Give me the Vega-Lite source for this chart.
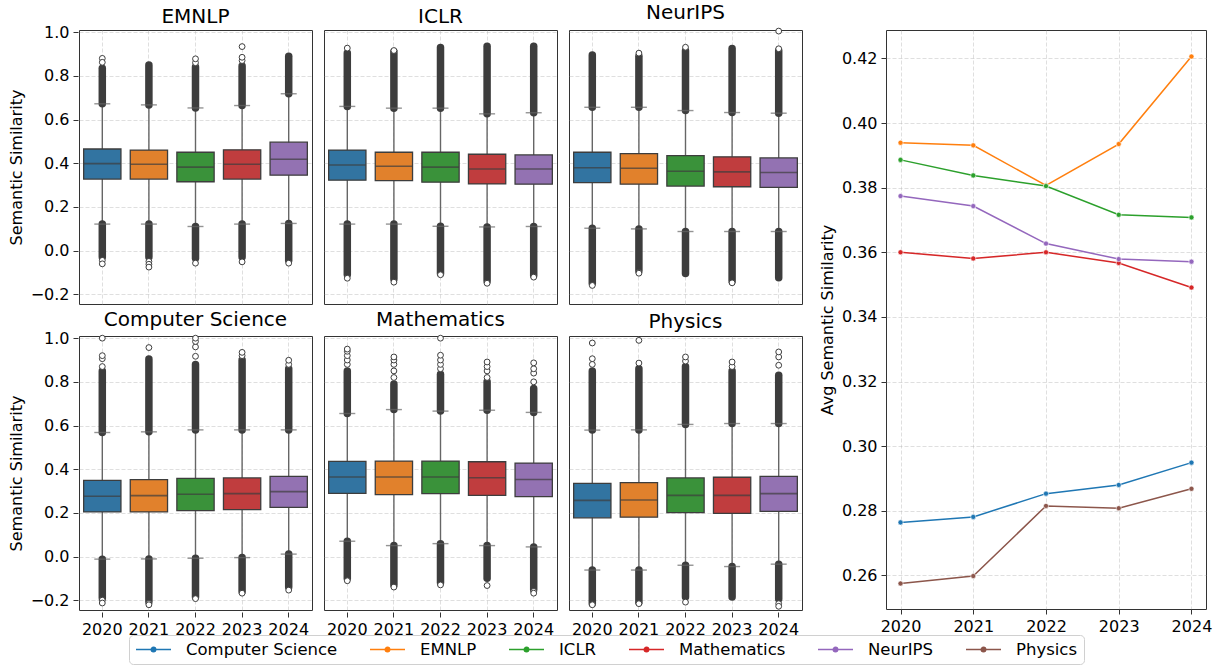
{
  "$schema": "https://vega.github.io/schema/vega-lite/v6.json",
  "background": "white",
  "padding": {"left": 8, "top": 2, "right": 5, "bottom": 0},
  "config": {
    "font": "DejaVu Sans",
    "view": {"stroke": "#333333", "strokeWidth": 1},
    "axis": {
      "labelFont": "DejaVu Sans", "labelFontSize": 16, "labelColor": "#000000",
      "titleFont": "DejaVu Sans", "titleFontSize": 16, "titleFontWeight": "normal", "titleColor": "#000000",
      "tickColor": "#333333", "tickSize": 5, "tickWidth": 1, "labelPadding": 4, "domain": false,
      "grid": true, "gridColor": "#b0b0b0", "gridOpacity": 0.5, "gridDash": [4, 2], "gridWidth": 0.8
    },
    "header": {"labelFont": "DejaVu Sans", "labelFontSize": 20, "labelColor": "#000000", "labelPadding": 3}
  },
  "hconcat": [
    {
      "data": {"values": [
        {"venue": "EMNLP", "year": "2020", "q1": 0.327, "median": 0.398, "q3": 0.465, "lo": 0.121, "hi": 0.672, "denseLo": -0.03, "denseHi": 0.835, "out": [0.88, 0.862, -0.045, -0.061]},
        {"venue": "EMNLP", "year": "2021", "q1": 0.327, "median": 0.395, "q3": 0.46, "lo": 0.121, "hi": 0.667, "denseLo": -0.03, "denseHi": 0.85, "out": [-0.05, -0.063, -0.076]},
        {"venue": "EMNLP", "year": "2022", "q1": 0.315, "median": 0.382, "q3": 0.45, "lo": 0.11, "hi": 0.653, "denseLo": -0.035, "denseHi": 0.84, "out": [0.86, 0.878, -0.058]},
        {"venue": "EMNLP", "year": "2023", "q1": 0.327, "median": 0.395, "q3": 0.461, "lo": 0.121, "hi": 0.664, "denseLo": -0.03, "denseHi": 0.845, "out": [0.87, 0.885, 0.934, -0.052]},
        {"venue": "EMNLP", "year": "2024", "q1": 0.345, "median": 0.418, "q3": 0.496, "lo": 0.124, "hi": 0.718, "denseLo": -0.045, "denseHi": 0.89, "out": [-0.058]},
        {"venue": "ICLR", "year": "2020", "q1": 0.322, "median": 0.392, "q3": 0.46, "lo": 0.121, "hi": 0.66, "denseLo": -0.11, "denseHi": 0.905, "out": [0.927, -0.127]},
        {"venue": "ICLR", "year": "2021", "q1": 0.32, "median": 0.386, "q3": 0.45, "lo": 0.121, "hi": 0.652, "denseLo": -0.13, "denseHi": 0.91, "out": [0.916, -0.145]},
        {"venue": "ICLR", "year": "2022", "q1": 0.313, "median": 0.382, "q3": 0.45, "lo": 0.111, "hi": 0.652, "denseLo": -0.105, "denseHi": 0.93, "out": [-0.111]},
        {"venue": "ICLR", "year": "2023", "q1": 0.305, "median": 0.373, "q3": 0.441, "lo": 0.108, "hi": 0.626, "denseLo": -0.14, "denseHi": 0.935, "out": [-0.15]},
        {"venue": "ICLR", "year": "2024", "q1": 0.304, "median": 0.373, "q3": 0.438, "lo": 0.11, "hi": 0.631, "denseLo": -0.115, "denseHi": 0.935, "out": [-0.122]},
        {"venue": "NeurIPS", "year": "2020", "q1": 0.311, "median": 0.379, "q3": 0.45, "lo": 0.102, "hi": 0.656, "denseLo": -0.15, "denseHi": 0.895, "out": [-0.16]},
        {"venue": "NeurIPS", "year": "2021", "q1": 0.304, "median": 0.377, "q3": 0.444, "lo": 0.099, "hi": 0.656, "denseLo": -0.09, "denseHi": 0.89, "out": [0.904, -0.1, -0.104]},
        {"venue": "NeurIPS", "year": "2022", "q1": 0.295, "median": 0.363, "q3": 0.435, "lo": 0.087, "hi": 0.641, "denseLo": -0.105, "denseHi": 0.915, "out": [0.931]},
        {"venue": "NeurIPS", "year": "2023", "q1": 0.292, "median": 0.36, "q3": 0.429, "lo": 0.087, "hi": 0.632, "denseLo": -0.14, "denseHi": 0.925, "out": [-0.148]},
        {"venue": "NeurIPS", "year": "2024", "q1": 0.289, "median": 0.357, "q3": 0.424, "lo": 0.087, "hi": 0.629, "denseLo": -0.125, "denseHi": 0.915, "out": [0.924, 1.005]},
        {"venue": "Computer Science", "year": "2020", "q1": 0.204, "median": 0.276, "q3": 0.349, "lo": -0.012, "hi": 0.568, "denseLo": -0.19, "denseHi": 0.85, "out": [0.87, 0.906, 0.92, 1.0, -0.2, -0.213]},
        {"venue": "Computer Science", "year": "2021", "q1": 0.204, "median": 0.279, "q3": 0.352, "lo": -0.011, "hi": 0.571, "denseLo": -0.205, "denseHi": 0.905, "out": [0.957, -0.215, -0.221]},
        {"venue": "Computer Science", "year": "2022", "q1": 0.21, "median": 0.285, "q3": 0.358, "lo": -0.008, "hi": 0.58, "denseLo": -0.185, "denseHi": 0.88, "out": [0.917, 0.96, 0.985, 1.0, -0.193]},
        {"venue": "Computer Science", "year": "2023", "q1": 0.215, "median": 0.288, "q3": 0.36, "lo": -0.005, "hi": 0.58, "denseLo": -0.16, "denseHi": 0.9, "out": [0.92, 0.935, -0.168]},
        {"venue": "Computer Science", "year": "2024", "q1": 0.225, "median": 0.297, "q3": 0.367, "lo": 0.011, "hi": 0.58, "denseLo": -0.14, "denseHi": 0.86, "out": [0.88, 0.899, -0.154]},
        {"venue": "Mathematics", "year": "2020", "q1": 0.289, "median": 0.364, "q3": 0.436, "lo": 0.07, "hi": 0.655, "denseLo": -0.1, "denseHi": 0.85, "out": [0.88, 0.9, 0.92, 0.94, 0.95, -0.111]},
        {"venue": "Mathematics", "year": "2021", "q1": 0.283, "median": 0.364, "q3": 0.437, "lo": 0.05, "hi": 0.673, "denseLo": -0.13, "denseHi": 0.79, "out": [0.82, 0.85, 0.88, 0.9, 0.914, -0.14]},
        {"venue": "Mathematics", "year": "2022", "q1": 0.288, "median": 0.364, "q3": 0.437, "lo": 0.059, "hi": 0.666, "denseLo": -0.12, "denseHi": 0.835, "out": [0.86, 0.88, 0.9, 0.922, 1.0, -0.13]},
        {"venue": "Mathematics", "year": "2023", "q1": 0.28, "median": 0.361, "q3": 0.434, "lo": 0.05, "hi": 0.67, "denseLo": -0.1, "denseHi": 0.8, "out": [0.82, 0.85, 0.87, 0.891, -0.133]},
        {"venue": "Mathematics", "year": "2024", "q1": 0.274, "median": 0.353, "q3": 0.428, "lo": 0.044, "hi": 0.66, "denseLo": -0.15, "denseHi": 0.77, "out": [0.8, 0.84, 0.86, 0.887, -0.16, -0.168]},
        {"venue": "Physics", "year": "2020", "q1": 0.177, "median": 0.257, "q3": 0.335, "lo": -0.062, "hi": 0.579, "denseLo": -0.215, "denseHi": 0.85, "out": [0.88, 0.906, 0.978, -0.221]},
        {"venue": "Physics", "year": "2021", "q1": 0.18, "median": 0.259, "q3": 0.338, "lo": -0.062, "hi": 0.58, "denseLo": -0.21, "denseHi": 0.86, "out": [0.886, 0.99, -0.216]},
        {"venue": "Physics", "year": "2022", "q1": 0.201, "median": 0.28, "q3": 0.36, "lo": -0.04, "hi": 0.605, "denseLo": -0.185, "denseHi": 0.87, "out": [0.895, 0.914, -0.209]},
        {"venue": "Physics", "year": "2023", "q1": 0.198, "median": 0.28, "q3": 0.363, "lo": -0.046, "hi": 0.609, "denseLo": -0.185, "denseHi": 0.85, "out": [0.87, 0.891]},
        {"venue": "Physics", "year": "2024", "q1": 0.207, "median": 0.288, "q3": 0.367, "lo": -0.035, "hi": 0.609, "denseLo": -0.195, "denseHi": 0.83, "out": [0.876, 0.914, 0.937, -0.216, -0.228]}
      ]},
      "facet": {
        "field": "venue", "type": "nominal", "title": null,
        "sort": ["EMNLP", "ICLR", "NeurIPS", "Computer Science", "Mathematics", "Physics"]
      },
      "columns": 3,
      "spacing": {"column": 10, "row": 3},
      "spec": {
        "width": 233,
        "height": 274,
        "encoding": {
          "x": {
            "field": "year", "type": "ordinal",
            "scale": {"paddingInner": 0, "paddingOuter": 0},
            "axis": {"title": null, "labelAngle": 0, "bandPosition": 0.5, "grid": true}
          }
        },
        "layer": [
          {
            "mark": {"type": "rule", "color": "#666666", "strokeWidth": 1.4},
            "encoding": {
              "y": {
                "field": "lo", "type": "quantitative",
                "scale": {"domain": [-0.245, 1.01], "nice": false, "zero": false},
                "axis": {"title": "Semantic Similarity", "values": [-0.2, 0, 0.2, 0.4, 0.6, 0.8, 1.0], "format": ".1f", "titlePadding": 6}
              },
              "y2": {"field": "hi"}
            }
          },
          {
            "mark": {"type": "rule", "color": "#3d3d3d", "strokeWidth": 7.5, "strokeCap": "round"},
            "encoding": {"y": {"field": "hi", "type": "quantitative"}, "y2": {"field": "denseHi"}}
          },
          {
            "mark": {"type": "rule", "color": "#3d3d3d", "strokeWidth": 7.5, "strokeCap": "round"},
            "encoding": {"y": {"field": "denseLo", "type": "quantitative"}, "y2": {"field": "lo"}}
          },
          {
            "transform": [{"flatten": ["out"], "as": ["outlier"]}],
            "mark": {"type": "point", "shape": "circle", "filled": false, "fill": "white", "fillOpacity": 1, "stroke": "#3d3d3d", "strokeWidth": 1, "size": 34, "opacity": 1},
            "encoding": {"y": {"field": "outlier", "type": "quantitative"}}
          },
          {
            "mark": {"type": "tick", "color": "#666666", "size": 16, "thickness": 1.4},
            "encoding": {"y": {"field": "hi", "type": "quantitative"}}
          },
          {
            "mark": {"type": "tick", "color": "#666666", "size": 16, "thickness": 1.4},
            "encoding": {"y": {"field": "lo", "type": "quantitative"}}
          },
          {
            "mark": {"type": "bar", "width": {"band": 0.8}, "stroke": "#3d3d3d", "strokeWidth": 1.3, "fillOpacity": 1},
            "encoding": {
              "y": {"field": "q1", "type": "quantitative"},
              "y2": {"field": "q3"},
              "fill": {
                "field": "year", "type": "nominal",
                "scale": {"domain": ["2020", "2021", "2022", "2023", "2024"], "range": ["#3274a1", "#e1812c", "#3a923a", "#c03d3e", "#9372b2"]},
                "legend": null
              }
            }
          },
          {
            "mark": {"type": "tick", "color": "#3d3d3d", "size": 37, "thickness": 1.6},
            "encoding": {"y": {"field": "median", "type": "quantitative"}}
          }
        ]
      }
    },
    {
      "width": 320,
      "height": 579,
      "data": {"values": [
        {"venue": "Computer Science", "year": 2020, "avg": 0.2764},
        {"venue": "Computer Science", "year": 2021, "avg": 0.2781},
        {"venue": "Computer Science", "year": 2022, "avg": 0.2853},
        {"venue": "Computer Science", "year": 2023, "avg": 0.288},
        {"venue": "Computer Science", "year": 2024, "avg": 0.2949},
        {"venue": "EMNLP", "year": 2020, "avg": 0.3939},
        {"venue": "EMNLP", "year": 2021, "avg": 0.3931},
        {"venue": "EMNLP", "year": 2022, "avg": 0.3807},
        {"venue": "EMNLP", "year": 2023, "avg": 0.3935},
        {"venue": "EMNLP", "year": 2024, "avg": 0.4206},
        {"venue": "ICLR", "year": 2020, "avg": 0.3886},
        {"venue": "ICLR", "year": 2021, "avg": 0.3838},
        {"venue": "ICLR", "year": 2022, "avg": 0.3805},
        {"venue": "ICLR", "year": 2023, "avg": 0.3716},
        {"venue": "ICLR", "year": 2024, "avg": 0.3708},
        {"venue": "Mathematics", "year": 2020, "avg": 0.36},
        {"venue": "Mathematics", "year": 2021, "avg": 0.3581},
        {"venue": "Mathematics", "year": 2022, "avg": 0.36},
        {"venue": "Mathematics", "year": 2023, "avg": 0.3567},
        {"venue": "Mathematics", "year": 2024, "avg": 0.3491},
        {"venue": "NeurIPS", "year": 2020, "avg": 0.3774},
        {"venue": "NeurIPS", "year": 2021, "avg": 0.3743},
        {"venue": "NeurIPS", "year": 2022, "avg": 0.3627},
        {"venue": "NeurIPS", "year": 2023, "avg": 0.3579},
        {"venue": "NeurIPS", "year": 2024, "avg": 0.3571},
        {"venue": "Physics", "year": 2020, "avg": 0.2575},
        {"venue": "Physics", "year": 2021, "avg": 0.2598},
        {"venue": "Physics", "year": 2022, "avg": 0.2815},
        {"venue": "Physics", "year": 2023, "avg": 0.2808},
        {"venue": "Physics", "year": 2024, "avg": 0.2868}
      ]},
      "encoding": {
        "x": {
          "field": "year", "type": "quantitative",
          "scale": {"domain": [2019.8, 2024.2], "nice": false, "zero": false},
          "axis": {"title": null, "values": [2020, 2021, 2022, 2023, 2024], "format": "d"}
        },
        "y": {
          "field": "avg", "type": "quantitative",
          "scale": {"domain": [0.2496, 0.4288], "nice": false, "zero": false},
          "axis": {"title": "Avg Semantic Similarity", "values": [0.26, 0.28, 0.3, 0.32, 0.34, 0.36, 0.38, 0.4, 0.42], "format": ".2f", "titlePadding": 6}
        },
        "color": {
          "field": "venue", "type": "nominal",
          "scale": {
            "domain": ["Computer Science", "EMNLP", "ICLR", "Mathematics", "NeurIPS", "Physics"],
            "range": ["#1f77b4", "#ff7f0e", "#2ca02c", "#d62728", "#9467bd", "#8c564b"]
          },
          "legend": {
            "title": null, "orient": "none", "direction": "horizontal", "legendX": 50, "legendY": 605,
            "labelFont": "DejaVu Sans", "labelFontSize": 16.5, "labelColor": "#000000",
            "symbolType": "M-1,0L3.67,0M1.03,0a0.3,0.3 0 1,0 0.6,0a0.3,0.3 0 1,0 -0.6,0",
            "symbolSize": 225, "symbolStrokeWidth": 1.5,
            "labelOffset": 34, "columnPadding": 29,
            "strokeColor": "#d0d0d0", "fillColor": "white", "cornerRadius": 4, "padding": 6
          }
        }
      },
      "layer": [
        {"mark": {"type": "line", "strokeWidth": 1.5}},
        {"mark": {"type": "point", "filled": true, "size": 26, "stroke": "white", "strokeWidth": 0.6, "opacity": 1}}
      ]
    }
  ],
  "spacing": 15,
  "resolve": {"scale": {"color": "shared"}, "legend": {"color": "shared"}}
}
